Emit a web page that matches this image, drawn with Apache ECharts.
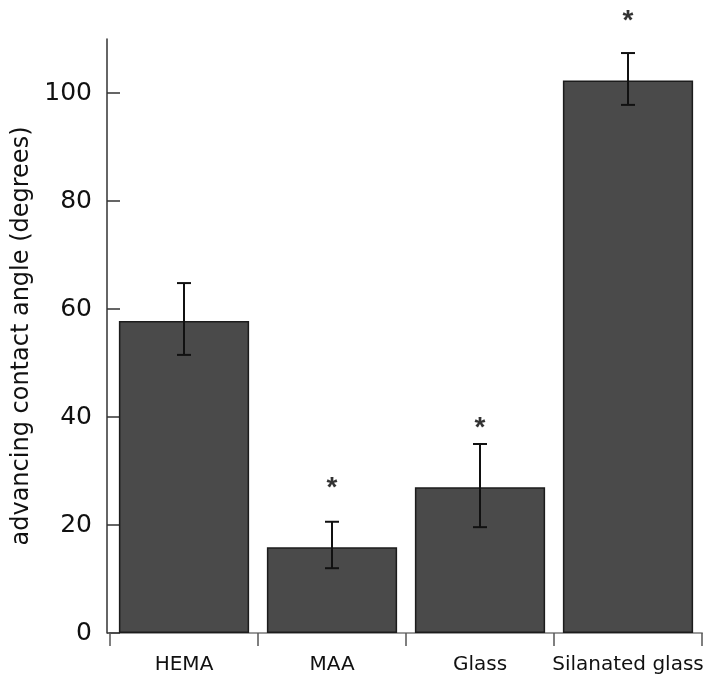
<!DOCTYPE html>
<html><head><meta charset="utf-8">
<script src="https://cdn.jsdelivr.net/npm/echarts@6/dist/echarts.min.js"></script>
<style>html,body{margin:0;padding:0;background:#fff}#c{width:714px;height:690px}</style>
</head><body><div id="c"></div>
<script>
const categories = ['HEMA', 'MAA', 'Glass', 'Silanated glass'];
const values = [57.8, 15.9, 27.0, 102.3];
const errLow = [51.5, 12.0, 19.6, 97.8];
const errHigh = [64.8, 20.6, 35.0, 107.4];
const starY = [null, 28.0, 39.0, 114.3];
const yTicks = [0, 20, 40, 60, 80, 100];

const FONT = 'DejaVu Sans';
const chart = echarts.init(document.getElementById('c'));
chart.setOption({
  animation: false,
  backgroundColor: '#fff',
  grid: { left: 110, right: 12, top: 39, bottom: 57, containLabel: false },
  xAxis: {
    type: 'category',
    data: categories,
    boundaryGap: true,
    axisLine: { show: true, lineStyle: { color: '#9a9a9a', width: 2 } },
    axisTick: { show: true, interval: 0, alignWithLabel: false, length: 13, lineStyle: { color: '#555', width: 1.5 } },
    axisLabel: { interval: 0, color: '#111', fontFamily: FONT, fontSize: 20, margin: 22 }
  },
  yAxis: {
    type: 'value',
    min: 0, max: 110, interval: 20,
    offset: 3,
    name: 'advancing contact angle (degrees)',
    nameLocation: 'middle',
    nameGap: 70,
    nameRotate: 90,
    nameTextStyle: { color: '#111', fontFamily: FONT, fontSize: 24 },
    axisLine: { show: true, onZero: false, lineStyle: { color: '#333', width: 1.5 } },
    axisTick: { show: true, inside: true, length: 13, customValues: yTicks, lineStyle: { color: '#333', width: 1.5 } },
    axisLabel: { color: '#111', fontFamily: FONT, fontSize: 25, margin: 15, customValues: yTicks },
    splitLine: { show: false }
  },
  series: [
    {
      type: 'bar',
      data: values,
      barCategoryGap: '12%',
      itemStyle: { color: '#4a4a4a', borderColor: '#1c1c1c', borderWidth: 1.5 },
      z: 2
    },
    {
      type: 'custom',
      z: 5,
      data: categories.map((c, i) => [i, errLow[i], errHigh[i]]),
      renderItem: function (params, api) {
        const x = api.coord([api.value(0), 0])[0];
        const lo = api.coord([api.value(0), api.value(1)])[1];
        const hi = api.coord([api.value(0), api.value(2)])[1];
        const w = 7;
        const st = { stroke: '#111', lineWidth: 2 };
        return {
          type: 'group',
          children: [
            { type: 'line', shape: { x1: x, y1: lo, x2: x, y2: hi }, style: st },
            { type: 'line', shape: { x1: x - w, y1: lo, x2: x + w, y2: lo }, style: st },
            { type: 'line', shape: { x1: x - w, y1: hi, x2: x + w, y2: hi }, style: st }
          ]
        };
      }
    },
    {
      type: 'scatter',
      clip: false,
      symbol: 'circle',
      symbolSize: 1,
      itemStyle: { color: 'rgba(0,0,0,0)' },
      z: 6,
      data: categories.map((c, i) => starY[i] == null ? null : [i, starY[i]]).filter(d => d),
      label: { show: true, position: 'inside', offset: [0, 6], formatter: '*', color: '#000', fontFamily: 'Liberation Sans', fontSize: 28, fontWeight: 'bold' }
    }
  ]
});
</script></body></html>
